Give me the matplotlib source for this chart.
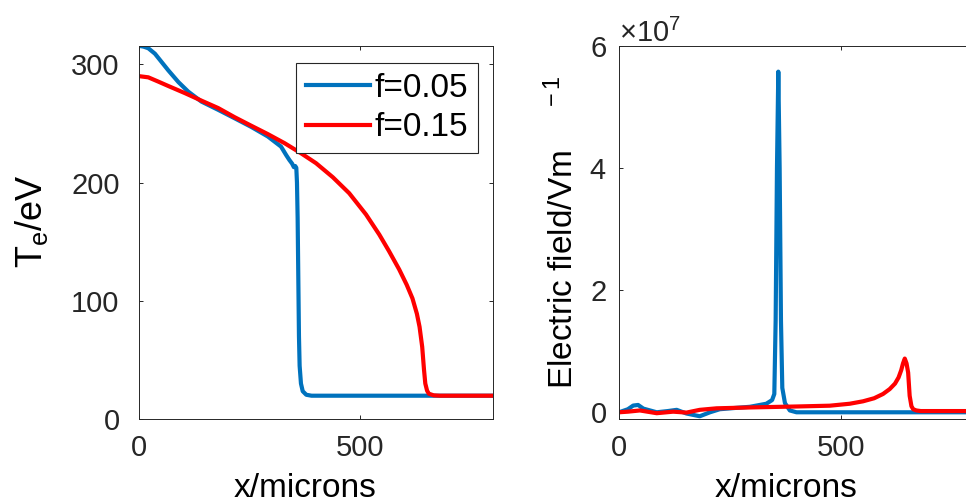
import matplotlib.pyplot as plt
import numpy as np
from matplotlib.ticker import ScalarFormatter

BLUE, RED, AXC = "#0072BD", "#FF0000", "#262626"
plt.rcParams.update({
    "font.family": "Liberation Sans", "font.size": 21,
    "mathtext.fontset": "custom", "mathtext.rm": "Liberation Sans",
    "mathtext.it": "Liberation Sans", "mathtext.default": "regular",
    "axes.edgecolor": AXC, "axes.linewidth": 0.7,
    "xtick.color": AXC, "ytick.color": AXC,
})

# electron temperature (eV) vs x (microns)
x_te_05 = [0, 2, 10, 21, 36, 51, 66, 89, 111, 141, 179, 216, 254, 291, 321, 333, 340, 346,
           350, 353, 355.5, 357, 358.5, 360, 361.5, 363, 366, 370, 378, 390, 800]
te_05 = [315.5, 315.5, 315, 313.6, 309, 302, 295, 285, 277, 268.5, 261.5, 254.4, 247, 239, 230.4, 223,
         219, 216, 213, 214, 212.5, 200, 170, 120, 70, 45, 30, 23.5, 20.5, 19.7, 19.7]
x_te_15 = [0, 21, 43.5, 66, 104, 141, 179, 216, 254, 291, 329, 366, 400, 438, 475, 513,
           543, 565, 588, 605, 618, 628, 634, 640, 644, 647, 651, 655, 666, 680, 800]
te_15 = [290, 289, 285.4, 281.7, 275.6, 269.3, 263, 255.3, 248, 241, 233.3, 224.8, 216.4, 204.5, 191, 173,
         156, 142, 126.5, 113.5, 102, 89, 78, 61, 42, 30, 24, 21.4, 20, 19.7, 19.7]

# electric field (units of 1e7 V/m) vs x (microns)
x_e_05 = [0, 20, 32, 43, 55, 85, 110, 130, 152, 182, 205, 227, 260, 295, 332, 345,
          350, 353, 356, 359, 362, 365, 368, 374, 385, 400, 800]
e_05 = [0.0, 0.05, 0.11, 0.12, 0.06, 0.0, 0.02, 0.04, -0.02, -0.065, 0.0, 0.05, 0.07, 0.09, 0.14, 0.2,
        0.3, 1.5, 4.0, 5.58, 4.0, 1.5, 0.4, 0.15, 0.03, 0.0, 0.0]
x_e_15 = [0, 20, 47, 85, 122, 152, 182, 220, 300, 400, 475, 520, 550, 575, 595, 610, 622, 630, 636,
          640, 644, 648, 651.6, 655, 659, 663, 670, 680, 800]
e_15 = [0.0, 0.01, 0.03, -0.015, 0.01, -0.005, 0.04, 0.065, 0.08, 0.095, 0.108, 0.14, 0.18, 0.23, 0.3, 0.38, 0.47, 0.57, 0.69,
        0.8, 0.88, 0.8, 0.65, 0.27, 0.1, 0.05, 0.03, 0.02, 0.02]

fig = plt.figure(figsize=(9.66, 5.04), dpi=100)
ax1 = fig.add_axes([139/966, 85/504, 354/966, 373/504])
ax2 = fig.add_axes([619/966, 85/504, 355/966, 373/504])

ax1.plot(x_te_05, te_05, color=BLUE, lw=3, label="f=0.05")
ax1.plot(x_te_15, te_15, color=RED, lw=3, label="f=0.15")
ax1.set_xlim(0, 800); ax1.set_ylim(0, 315.5)
ax1.set_xticks([0, 500]); ax1.set_yticks([0, 100, 200, 300])
ax1.set_ylabel("T$_{e}$/eV", fontsize=26)
ax1.yaxis.set_label_coords(-0.25, 0.53)
ax1.set_xlabel("x/microns", fontsize=24)
ax1.xaxis.set_label_coords(0.47, -0.145)
ax1.tick_params(axis="y", pad=14)
leg = ax1.legend(loc="upper right", bbox_to_anchor=(0.958, 0.954), fontsize=24,
                 borderaxespad=0, borderpad=0.3, handlelength=1.9, handletextpad=0.15,
                 labelspacing=0.25, fancybox=False, framealpha=1, edgecolor=AXC)
leg.get_frame().set_linewidth(0.8)

ax2.plot(x_e_05, np.array(e_05) * 1e7, color=BLUE, lw=3)
ax2.plot(x_e_15, np.array(e_15) * 1e7, color=RED, lw=3)
ax2.set_xlim(0, 800); ax2.set_ylim(-0.11e7, 6e7)
ax2.set_xticks([0, 500]); ax2.set_yticks([0, 2e7, 4e7, 6e7])
fmt = ScalarFormatter(useMathText=True); fmt.set_powerlimits((0, 0))
ax2.yaxis.set_major_formatter(fmt)
ax2.yaxis.get_offset_text().set_fontsize(21)
ax2.set_ylabel("Electric field/Vm$^{\\qquad -1}$", fontsize=24)
ax2.yaxis.set_label_coords(-0.11, 0.5)
ax2.set_xlabel("x/microns", fontsize=24)
ax2.xaxis.set_label_coords(0.47, -0.145)
ax2.tick_params(axis="y", pad=9)

for ax in (ax1, ax2):
    ax.tick_params(direction="in", length=3, top=True, right=True, width=0.7)
    ax.tick_params(axis="x", pad=11)

fig.savefig("out.png", dpi=100)
